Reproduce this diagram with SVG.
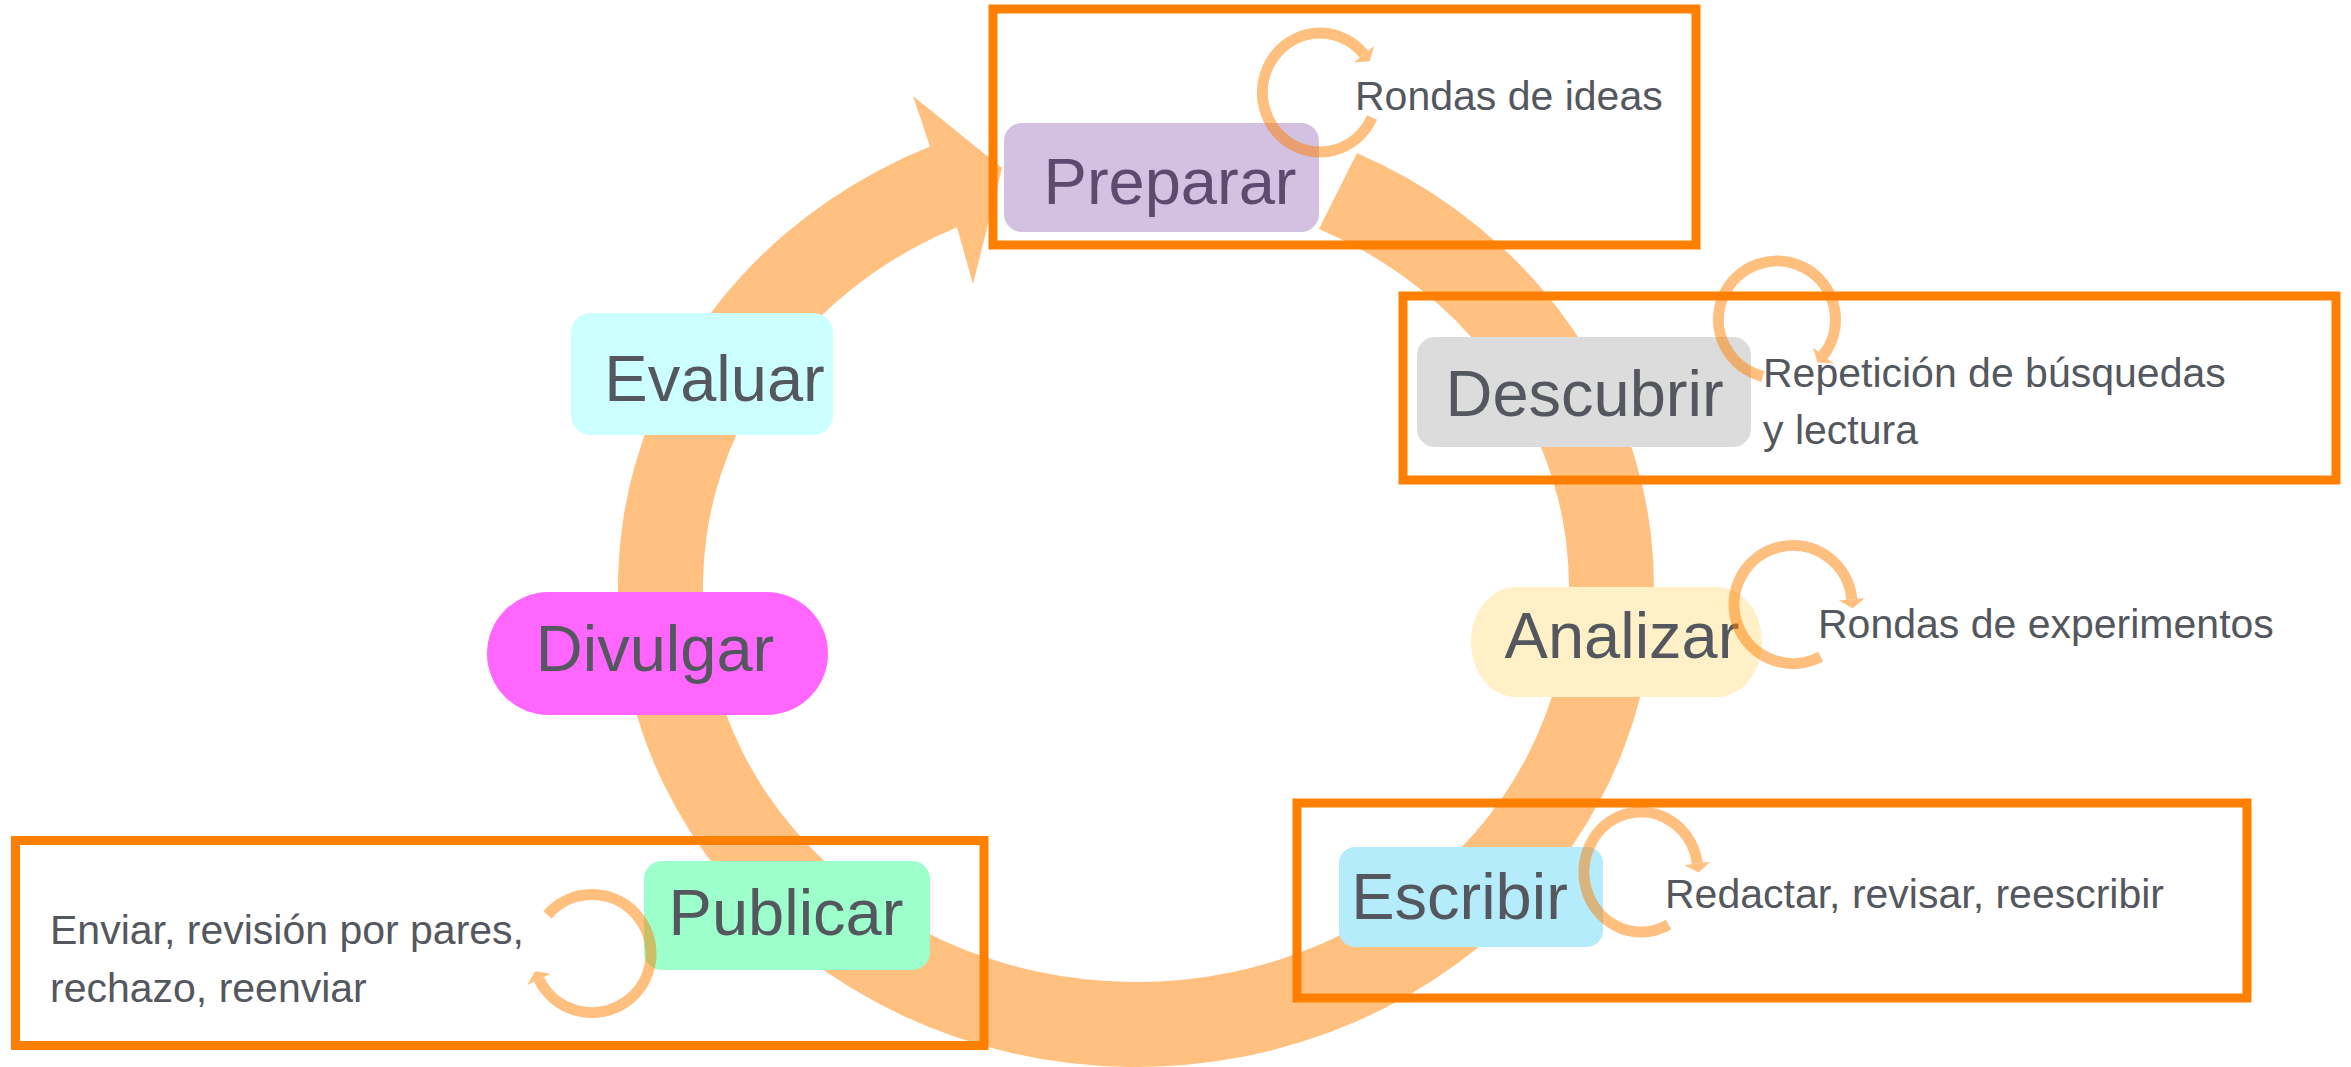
<svg xmlns="http://www.w3.org/2000/svg" width="2351" height="1067" viewBox="0 0 2351 1067">
<defs>
<style>
.ring{fill:#FFC080}
.frame{fill:none;stroke:#FF8000;stroke-width:9}
.lbl{font-family:"Liberation Sans",Arial,sans-serif;font-size:65px;fill:#54585E;text-anchor:middle}
.note{font-family:"Liberation Sans",Arial,sans-serif;font-size:41px;fill:#54585E}
.loop{fill:none;stroke:#FF8000;stroke-width:11;marker-end:url(#ah)}
</style>
<marker id="ah" markerUnits="userSpaceOnUse" viewBox="0 -14 10 28" refX="0" refY="0" markerWidth="10" markerHeight="28" orient="auto" overflow="visible">
<path d="M0,-13 L9,0 L0,13 Z" fill="#FF8000"/>
</marker>
</defs>
<rect x="0" y="0" width="2351" height="1067" fill="#FFFFFF"/>

<g id="connectors-cycle">
<path class="ring" d="M1357,152.9 A518,480 0 1 1 930,146.6 L913,96 L1002,168 L973,284 L957,227.3 A433,395 0 1 0 1319,229 Z"/>
</g>

<g id="frames">
<rect class="frame" x="993" y="9" width="703" height="236"/>
<rect class="frame" x="1403" y="296" width="933" height="184"/>
<rect class="frame" x="1297" y="803" width="950" height="195"/>
<rect class="frame" x="15.5" y="840.5" width="968.5" height="205"/>
</g>

<g id="node-preparar">
<rect x="1004" y="123" width="315" height="109" rx="18" fill="#D4C0E0"/>
<text class="lbl" x="1170" y="204" style="fill:#5C4A6F">Preparar</text>
</g>
<g id="node-descubrir">
<rect x="1417" y="337" width="334" height="110" rx="18" fill="#DCDCDC"/>
<text class="lbl" x="1584.5" y="416">Descubrir</text>
</g>
<g id="node-analizar">
<rect x="1471" y="587" width="291" height="110" rx="45" ry="55" fill="#FFF0C8"/>
<text class="lbl" x="1622" y="658">Analizar</text>
</g>
<g id="node-escribir">
<rect x="1339" y="847" width="264" height="100" rx="16" fill="#B4ECFC"/>
<text class="lbl" x="1459.5" y="919">Escribir</text>
</g>
<g id="node-publicar">
<rect x="644" y="861" width="286" height="109" rx="18" fill="#9CFFCC"/>
<text class="lbl" x="786" y="935">Publicar</text>
</g>
<g id="node-evaluar">
<rect x="571" y="313" width="262" height="122" rx="20" fill="#CCFFFF"/>
<text class="lbl" x="714.5" y="401">Evaluar</text>
</g>
<g id="node-divulgar">
<rect x="487" y="592" width="341" height="123" rx="61.5" fill="#FF66FF"/>
<text class="lbl" x="655" y="671">Divulgar</text>
</g>

<g id="note-ideas">
<text class="note" x="1355" y="110">Rondas de ideas</text>
</g>
<g id="note-busquedas">
<text class="note" x="1763" y="387">Repetición de búsquedas</text>
<text class="note" x="1763" y="444">y lectura</text>
</g>
<g id="note-experimentos">
<text class="note" x="1818" y="638">Rondas de experimentos</text>
</g>
<g id="note-redactar">
<text class="note" x="1665" y="908">Redactar, revisar, reescribir</text>
</g>
<g id="note-enviar">
<text class="note" x="50" y="944">Enviar, revisión por pares,</text>
<text class="note" x="50" y="1002">rechazo, reenviar</text>
</g>

<g id="connectors-loops" opacity="0.5">
<path class="loop" d="M1372.1,117.6 A57.5,59.5 0 1 1 1364.0,54.3"/>
<path class="loop" d="M1762.8,376.3 A58.5,58.5 0 1 1 1823.1,355.5"/>
<path class="loop" d="M1820.7,656.6 A59,59 0 1 1 1851.8,599.4"/>
<path class="loop" d="M1668.6,924.5 A57,60 0 1 1 1697.4,863.6"/>
<path class="loop" d="M547.5,914.8 A59,59 0 1 1 539.0,979.4"/>
</g>
</svg>
